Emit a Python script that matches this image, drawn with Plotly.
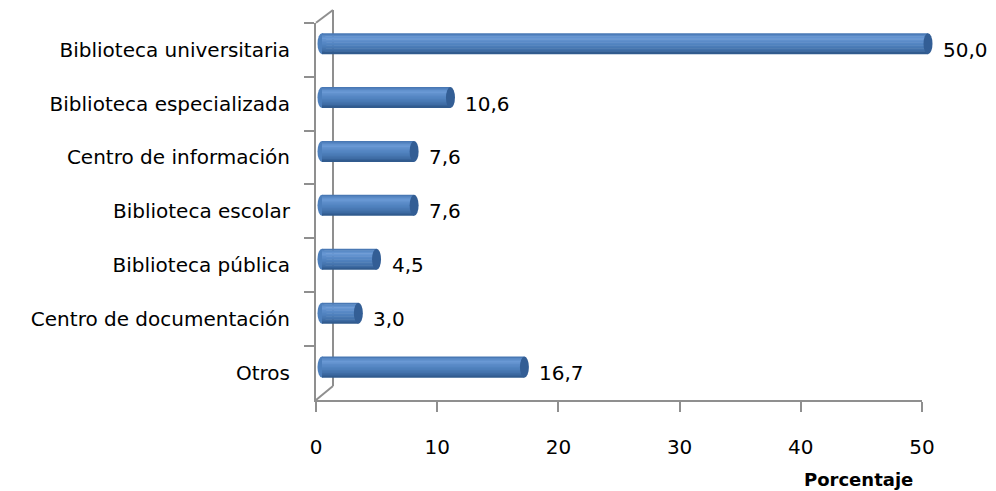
import plotly.graph_objects as go

# Share of respondents by type of information unit (%)
categories = [
    "Biblioteca universitaria",
    "Biblioteca especializada",
    "Centro de información",
    "Biblioteca escolar",
    "Biblioteca pública",
    "Centro de documentación",
    "Otros",
]
values = [50.0, 10.6, 7.6, 7.6, 4.5, 3.0, 16.7]
x_ticks = [0, 10, 20, 30, 40, 50]
axis_title = "Porcentaje"

W, H = 996, 491
FONT = "DejaVu Sans"
AXIS_GREY = "#8f8f8f"

# pixel geometry of the front plane and the (slightly shifted) bar plane
x0_px, x50_px = 316, 922
px_per_unit = (x50_px - x0_px) / 50.0
y_top_px, y_bot_px = 22.7, 400
band_px = (y_bot_px - y_top_px) / len(categories)
bar_dx, bar_dy = 6, -6          # depth offset of the bars
bar_range = [-1, 52]
half_thick = 10.5               # half bar thickness in px

def px_x(p):
    return p / W

def px_y(p):
    return 1 - p / H

def hex_rgb(h):
    h = h.lstrip("#")
    return tuple(int(h[i:i + 2], 16) for i in (0, 2, 4))

# vertical colour profile of the cylinder (offset from centre in px, colour)
profile = [
    (-10.5, "#4170ab"),
    (-8.5, "#5686c3"),
    (-5.5, "#6b9ad6"),
    (-2.5, "#5c8cc9"),
    (1.5, "#4f81bd"),
    (5.5, "#4372ac"),
    (8.5, "#37639a"),
    (10.5, "#2e5687"),
]

def shade(t):
    for (ta, ca), (tb, cb) in zip(profile, profile[1:]):
        if ta <= t <= tb:
            f = (t - ta) / (tb - ta)
            a, b = hex_rgb(ca), hex_rgb(cb)
            return "rgb({},{},{})".format(*[round(a[k] + (b[k] - a[k]) * f) for k in range(3)])
    return profile[-1][1]

fig = go.Figure()

# invisible trace that carries the front axes
fig.add_trace(go.Scatter(
    x=values, y=categories, mode="markers",
    marker=dict(opacity=0), hoverinfo="skip", showlegend=False,
    xaxis="x", yaxis="y",
))

# cylinder shading: thin horizontal strips stacked on each bar
idx = list(range(len(categories)))
strip = 1.5
n_strips = int(round(2 * half_thick / strip))
for s in range(n_strips):
    top = -half_thick + s * strip
    bot = min(top + strip + 0.6, half_thick)
    fig.add_trace(go.Bar(
        x=values, y=idx, orientation="h", base=0,
        offset=top / band_px, width=(bot - top) / band_px,
        marker=dict(color=shade(top + strip / 2), line=dict(width=0)),
        hoverinfo="skip", showlegend=False,
        xaxis="x2", yaxis="y2",
    ))

shapes = []
cap_dx = 4.5 / px_per_unit
cap_dy = half_thick / band_px
for i, v in enumerate(values):
    # rounded left end
    shapes.append(dict(type="circle", xref="x2", yref="y2", layer="below",
                       x0=-cap_dx, x1=cap_dx, y0=i - cap_dy, y1=i + cap_dy,
                       fillcolor="#4d7fbc", line=dict(width=0)))
    # darker right cap
    shapes.append(dict(type="circle", xref="x2", yref="y2", layer="above",
                       x0=v - cap_dx, x1=v + cap_dx, y0=i - cap_dy, y1=i + cap_dy,
                       fillcolor="#335e95", line=dict(width=0)))

# back wall of the 3D frame
back_x = 333
wall = [
    (back_x, 10, back_x, 386),
    (x0_px, y_top_px, back_x, 10),
    (x0_px, y_bot_px, back_x, 386),
]
for xa, ya, xb, yb in wall:
    shapes.append(dict(type="line", xref="paper", yref="paper", layer="below",
                       x0=px_x(xa), y0=px_y(ya), x1=px_x(xb), y1=px_y(yb),
                       line=dict(color=AXIS_GREY, width=2)))

annotations = []
for c, v in zip(categories, values):
    annotations.append(dict(
        x=v, y=c, xref="x2", yref="y", xanchor="left", yanchor="middle",
        xshift=13, showarrow=False,
        text=f"{v:.1f}".replace(".", ","),
        font=dict(family=FONT, size=20, color="#000000"),
    ))
annotations.append(dict(
    x=px_x(858), y=px_y(479), xref="paper", yref="paper",
    xanchor="center", yanchor="middle", showarrow=False,
    text=f"<b>{axis_title}</b>",
    font=dict(family=FONT, size=18, color="#000000"),
))

fig.update_layout(
    width=W, height=H,
    margin=dict(l=0, r=0, t=0, b=0),
    paper_bgcolor="white", plot_bgcolor="rgba(0,0,0,0)",
    separators=",.",
    barmode="overlay",
    showlegend=False,
    font=dict(family=FONT, size=20, color="#000000"),
    xaxis=dict(
        domain=[px_x(x0_px), px_x(x50_px)], range=[0, 50],
        tickvals=x_ticks, ticktext=[str(t) for t in x_ticks],
        showgrid=False, zeroline=False,
        showline=True, linecolor=AXIS_GREY, linewidth=2,
        ticks="outside", ticklen=10, tickwidth=2, tickcolor=AXIS_GREY,
        ticklabelstandoff=18,
        tickfont=dict(family=FONT, size=20, color="#000000"),
        anchor="y", automargin=False, fixedrange=True,
    ),
    yaxis=dict(
        domain=[px_y(y_bot_px), px_y(y_top_px)],
        type="category", categoryarray=categories, categoryorder="array",
        range=[len(categories) - 0.5, -0.5],
        tickson="boundaries",
        showgrid=False, zeroline=False,
        showline=True, linecolor=AXIS_GREY, linewidth=2,
        ticks="outside", ticklen=10, tickwidth=2, tickcolor=AXIS_GREY,
        ticklabelstandoff=20,
        tickfont=dict(family=FONT, size=20, color="#000000"),
        anchor="x", automargin=False, fixedrange=True,
    ),
    xaxis2=dict(
        domain=[px_x(x0_px + bar_dx + bar_range[0] * px_per_unit),
                px_x(x0_px + bar_dx + bar_range[1] * px_per_unit)],
        range=bar_range, visible=False, anchor="y2", fixedrange=True,
    ),
    yaxis2=dict(
        domain=[px_y(y_bot_px + bar_dy), px_y(y_top_px + bar_dy)],
        range=[len(categories) - 0.5, -0.5], visible=False,
        anchor="x2", fixedrange=True,
    ),
    shapes=shapes,
    annotations=annotations,
)

fig.write_html("out.html")
